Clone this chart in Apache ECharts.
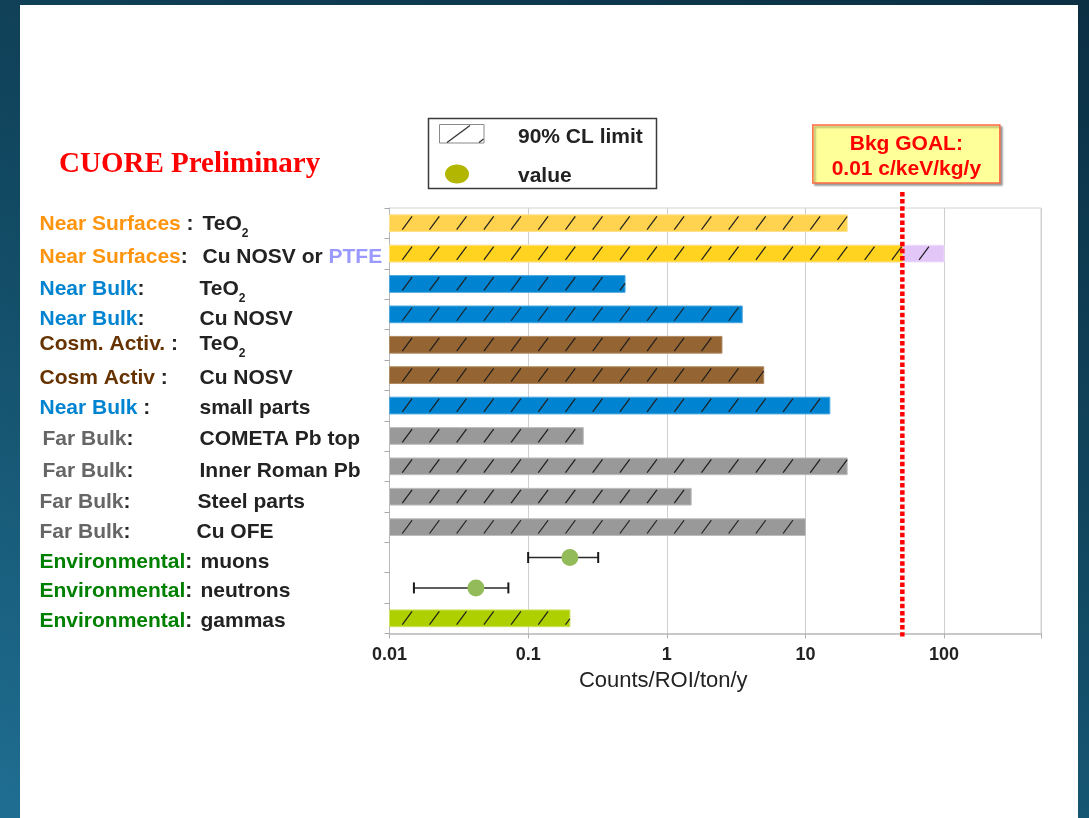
<!DOCTYPE html>
<html>
<head>
<meta charset="utf-8">
<title>CUORE background budget</title>
<script src="https://cdn.jsdelivr.net/npm/echarts@6.0.0/dist/echarts.min.js"></script>
<style>
  html, body { margin: 0; padding: 0; width: 1089px; height: 818px; overflow: hidden;
    background: linear-gradient(200deg, #0b2f43 0%, #124a63 50%, #1f6e92 100%); }
  #sheet { position: absolute; left: 20px; top: 5px; width: 1058px; height: 813px; background: #fff; }
  #chart { position: absolute; left: 0; top: 0; width: 1089px; height: 818px; }
</style>
</head>
<body>
<div id="sheet"></div>
<div id="chart"></div>
<script>
// ---------------------------------------------------------------- data
// One row per background source, listed top to bottom.
const groupLabels = ['Near Surfaces', 'Near Surfaces', 'Near Bulk', 'Near Bulk', 'Cosm. Activ.', 'Cosm Activ',
  'Near Bulk', 'Far Bulk', 'Far Bulk', 'Far Bulk', 'Far Bulk', 'Environmental', 'Environmental', 'Environmental'];
const separators = [' :', ':', ':', ':', ' :', ' :', ' :', ':', ':', ':', ':', ':', ':', ':'];
const sourceLabels = ['TeO2', 'Cu NOSV or PTFE', 'TeO2', 'Cu NOSV', 'TeO2', 'Cu NOSV', 'small parts',
  'COMETA Pb top', 'Inner Roman Pb', 'Steel parts', 'Cu OFE', 'muons', 'neutrons', 'gammas'];

// 90% CL upper limits, Counts/ROI/ton/y (null where a measured value is shown)
const limitValues = [20, 50, 0.5, 3.5, 2.5, 5, 15, 0.25, 20, 1.5, 10, null, null, 0.2];
// PTFE option for the near-surface contamination
const ptfeLimits = [null, 100, null, null, null, null, null, null, null, null, null, null, null, null];
// measured values and their ranges
const measuredValues = [null, null, null, null, null, null, null, null, null, null, null, 0.2, 0.042, null];
const measuredLow = [null, null, null, null, null, null, null, null, null, null, null, 0.1, 0.015, null];
const measuredHigh = [null, null, null, null, null, null, null, null, null, null, null, 0.32, 0.072, null];

// background goal
const goalValue = 50;
const goalLabel = ['Bkg GOAL:', '0.01 c/keV/kg/y'];

const xTickValues = [0.01, 0.1, 1, 10, 100];
const xTickLabels = ['0.01', '0.1', '1', '10', '100'];
const xAxisTitle = 'Counts/ROI/ton/y';
const legendLabels = ['90% CL limit', 'value'];
const titleText = 'CUORE Preliminary';

// ---------------------------------------------------------------- styles
const FONT = '"Liberation Sans", Arial, sans-serif';
const INK = '#222222';
const groupColors = {
  'Near Surfaces': '#FF950E', 'Near Bulk': '#0084D1', 'Cosm. Activ.': '#663300',
  'Cosm Activ': '#663300', 'Far Bulk': '#666666', 'Environmental': '#008000'
};
const barFills = ['#FFD34F', '#FFD320', '#0084D1', '#0084D1', '#956433', '#956433', '#0084D1',
  '#999999', '#999999', '#999999', '#999999', null, null, '#AECF00'];
const barEdges = ['#FFE28E', '#FFE37A', '#4AA6DE', '#4AA6DE', '#B08A62', '#B08A62', '#4AA6DE',
  '#BDBDBD', '#BDBDBD', '#BDBDBD', '#BDBDBD', null, null, '#CCE25A'];
const ptfeFill = '#E2C6F8';
const ptfeEdge = '#EEDCFB';
const pointColor = '#93BB5A';

// label layout: where the source name starts (from the label's left edge),
// indent of the group name, and a small vertical nudge per row
const ITEM_X = [163, 163, 160, 160, 160, 160, 160, 160, 160, 158, 157, 161, 161, 161];
const HEAD_INDENT = [0, 0, 0, 0, 0, 0, 0, 3, 3, 0, 0, 0, 0, 0];
const ROW_NUDGE = [1, 4, 5, 5, -1, 3, 2.5, 3, 5, 5, 5, 5, 3, 3];
const SUB_DROP = 9.5;

// ---------------------------------------------------------------- category labels
const LABEL_SIZE = 21;
const labelBase = { fontFamily: FONT, fontWeight: 'bold', fontSize: LABEL_SIZE, lineHeight: 32 };
const measure = document.createElement('canvas').getContext('2d');
measure.font = 'bold ' + LABEL_SIZE + 'px ' + FONT;

function vpad(d, left) {
  return d >= 0 ? [2 * d, 0, 0, left || 0] : [0, 0, -2 * d, left || 0];
}

const rich = {};
groupLabels.forEach(function (g, i) {
  const d = ROW_NUDGE[i];
  rich['g' + i] = Object.assign({}, labelBase, { color: groupColors[g], padding: vpad(d, HEAD_INDENT[i]) });
  const w = measure.measureText(g).width;
  rich['c' + i] = Object.assign({}, labelBase, { color: INK, width: ITEM_X[i] - HEAD_INDENT[i] - w, padding: vpad(d) });
  rich['t' + i] = Object.assign({}, labelBase, { color: INK, padding: vpad(d) });
  rich['p' + i] = Object.assign({}, labelBase, { color: '#9999FF', padding: vpad(d) });
  rich['s' + i] = { fontFamily: FONT, fontWeight: 'bold', fontSize: 12, lineHeight: 12, color: INK,
    padding: [2 * (SUB_DROP + d), 0, 0, 0] };
});

function sourceRich(text, i) {
  return text.split(/(TeO2|PTFE)/).filter(Boolean).map(function (part) {
    if (part === 'TeO2') return '{t' + i + '|TeO}{s' + i + '|2}';
    if (part === 'PTFE') return '{p' + i + '|PTFE}';
    return '{t' + i + '|' + part + '}';
  }).join('');
}
const categories = groupLabels.map(function (g, i) { return g + separators[i] + ' ' + sourceLabels[i]; });
function categoryLabel(i) {
  return '{g' + i + '|' + groupLabels[i] + '}{c' + i + '|' + separators[i] + '}' + sourceRich(sourceLabels[i], i);
}

// ---------------------------------------------------------------- series data
const limitData = [];
ptfeLimits.forEach(function (v, i) { if (v != null) limitData.push({ value: [v, i], fill: ptfeFill, edge: ptfeEdge }); });
limitValues.forEach(function (v, i) { if (v != null) limitData.push({ value: [v, i], fill: barFills[i], edge: barEdges[i] }); });

const rangeData = [];
const pointData = [];
measuredValues.forEach(function (v, i) {
  if (v == null) return;
  rangeData.push([v, measuredLow[i], measuredHigh[i], i]);
  pointData.push([v, i]);
});

const X_MIN = 0.01;
const X_MAX = 500;

// hatched limit bar: filled bar from the axis minimum with evenly spaced "/" strokes
function renderLimitBar(params, api) {
  const item = limitData[params.dataIndex];
  const row = api.value(1);
  const p0 = api.coord([X_MIN, row]);
  const p1 = api.coord([api.value(0), row]);
  const band = Math.abs(api.coord([X_MIN, 1])[1] - api.coord([X_MIN, 0])[1]);
  const h = band * 0.55;
  const x0 = p0[0], x1 = p1[0];
  const top = p0[1] - h / 2, bottom = p0[1] + h / 2;
  const children = [{
    type: 'rect',
    shape: { x: x0, y: top, width: x1 - x0, height: h },
    style: { fill: item.fill, stroke: item.edge, lineWidth: 1 }
  }];
  const sy = bottom - 2, ey = top + 1.5, run = 9.8;
  for (let a = x0 + 12.8; a < x1 - 0.5; a += 27.2) {
    let ex = a + run, eyy = ey;
    if (ex > x1) { ex = x1; eyy = sy - (x1 - a) / run * (sy - ey); }
    children.push({
      type: 'line',
      shape: { x1: a, y1: sy, x2: ex, y2: eyy },
      style: { stroke: '#1e1e1e', lineWidth: 1.2 }
    });
  }
  return { type: 'group', children: children };
}

// horizontal range with end caps
function renderRange(params, api) {
  const row = api.value(3);
  const c = api.coord([api.value(0), row]);
  const lo = api.coord([api.value(1), row]);
  const hi = api.coord([api.value(2), row]);
  const cap = 5.5;
  return {
    type: 'group', children: [
      { type: 'line', shape: { x1: lo[0], y1: c[1], x2: hi[0], y2: c[1] }, style: { stroke: '#2a2a2a', lineWidth: 1.5 } },
      { type: 'line', shape: { x1: lo[0], y1: c[1] - cap, x2: lo[0], y2: c[1] + cap }, style: { stroke: '#1a1a1a', lineWidth: 2 } },
      { type: 'line', shape: { x1: hi[0], y1: c[1] - cap, x2: hi[0], y2: c[1] + cap }, style: { stroke: '#1a1a1a', lineWidth: 2 } }
    ]
  };
}

// dotted goal line with its note box above the plot
function renderGoal(params, api) {
  const x = api.coord([api.value(0), 0])[0];
  const cs = params.coordSys;
  const boxW = 187, boxH = 58, boxTop = cs.y - 83, cx = x + 4;
  const textStyle = { fill: '#FF0000', font: 'bold 21px ' + FONT, align: 'center', verticalAlign: 'middle' };
  return {
    type: 'group', children: [
      { type: 'line', shape: { x1: x, y1: boxTop + boxH + 9, x2: x, y2: cs.y + cs.height + 3 },
        style: { stroke: '#FF0000', lineWidth: 4.5, lineDash: [4.5, 2.6] } },
      { type: 'rect', shape: { x: cx - boxW / 2, y: boxTop, width: boxW, height: boxH },
        style: { fill: '#FFFF99', stroke: '#FF6A45', lineWidth: 1.5,
          shadowColor: 'rgba(0,0,0,0.35)', shadowOffsetX: 2, shadowOffsetY: 2, shadowBlur: 2 } },
      { type: 'text', x: cx, y: boxTop + 19, style: Object.assign({ text: goalLabel[0] }, textStyle) },
      { type: 'text', x: cx, y: boxTop + 44, style: Object.assign({ text: goalLabel[1] }, textStyle) }
    ]
  };
}

// ---------------------------------------------------------------- chart
const chart = echarts.init(document.getElementById('chart'), null, { renderer: 'canvas' });
chart.setOption({
  animation: false,
  backgroundColor: 'transparent',
  title: {
    text: titleText, left: 54, top: 145,
    textStyle: { fontFamily: '"Liberation Serif", "Times New Roman", serif', fontWeight: 'bold', fontSize: 29, color: '#FF0000' }
  },
  grid: {
    left: 389.5, right: 48, top: 208, bottom: 184.5,
    show: true, borderColor: '#d2d2d2', borderWidth: 1, outerBoundsMode: 'none'
  },
  xAxis: {
    type: 'log', logBase: 10, min: X_MIN, max: X_MAX,
    name: xAxisTitle, nameLocation: 'middle', nameGap: 36,
    nameTextStyle: { fontFamily: FONT, fontSize: 22, color: INK, padding: [0, 104, 0, 0] },
    axisLine: { show: true, lineStyle: { color: '#c8c8c8', width: 2 } },
    axisTick: { show: true, length: 5, lineStyle: { color: '#b0b0b0' } },
    minorTick: { show: false },
    splitLine: { show: true, lineStyle: { color: '#cfcfcf', width: 1 } },
    axisLabel: {
      margin: 13, fontFamily: FONT, fontWeight: 'bold', fontSize: 18, color: INK,
      formatter: function (v) {
        const k = xTickValues.findIndex(function (t) { return Math.abs(Math.log10(t) - Math.log10(v)) < 1e-6; });
        return k >= 0 ? xTickLabels[k] : '';
      }
    }
  },
  yAxis: {
    type: 'category', inverse: true, data: categories,
    axisLine: { show: true, lineStyle: { color: '#b8b8b8' } },
    axisTick: { show: true, length: 5, interval: 0, lineStyle: { color: '#a8a8a8' } },
    splitLine: { show: false },
    axisLabel: {
      interval: 0, align: 'left', margin: 350,
      formatter: function (v, i) { return categoryLabel(i); },
      rich: rich
    }
  },
  graphic: {
    elements: [
      { type: 'rect', shape: { x: 428.5, y: 118.5, width: 228, height: 70 },
        style: { fill: '#fff', stroke: '#3a3a3a', lineWidth: 1.5 } },
      { type: 'rect', shape: { x: 439.5, y: 124.5, width: 44.5, height: 18.5 },
        style: { fill: '#fff', stroke: '#8a8a8a', lineWidth: 1 } },
      { type: 'line', shape: { x1: 447, y1: 142.5, x2: 470, y2: 125.5 }, style: { stroke: '#333', lineWidth: 1.3 } },
      { type: 'line', shape: { x1: 479, y1: 142.5, x2: 483.5, y2: 139 }, style: { stroke: '#333', lineWidth: 1.3 } },
      { type: 'ellipse', shape: { cx: 457, cy: 174, rx: 12, ry: 9.5 }, style: { fill: '#B3B600' } },
      { type: 'text', x: 518, y: 137, style: { text: legendLabels[0], fill: INK, font: 'bold 21px ' + FONT, verticalAlign: 'middle' } },
      { type: 'text', x: 518, y: 176, style: { text: legendLabels[1], fill: INK, font: 'bold 21px ' + FONT, verticalAlign: 'middle' } }
    ]
  },
  series: [
    {
      name: legendLabels[0], type: 'custom', renderItem: renderLimitBar,
      encode: { x: 0, y: 1 }, data: limitData.map(function (d) { return d.value; }), z: 2
    },
    {
      name: 'range', type: 'custom', renderItem: renderRange,
      encode: { x: [0, 1, 2], y: 3 }, data: rangeData, z: 3
    },
    {
      name: legendLabels[1], type: 'scatter', data: pointData, symbol: 'circle', symbolSize: 17,
      itemStyle: { color: pointColor, opacity: 1 }, z: 4
    },
    {
      name: 'goal', type: 'custom', renderItem: renderGoal, clip: false,
      encode: { x: 0, y: 1 }, data: [[goalValue, 0]], z: 5
    }
  ]
});
</script>
</body>
</html>
